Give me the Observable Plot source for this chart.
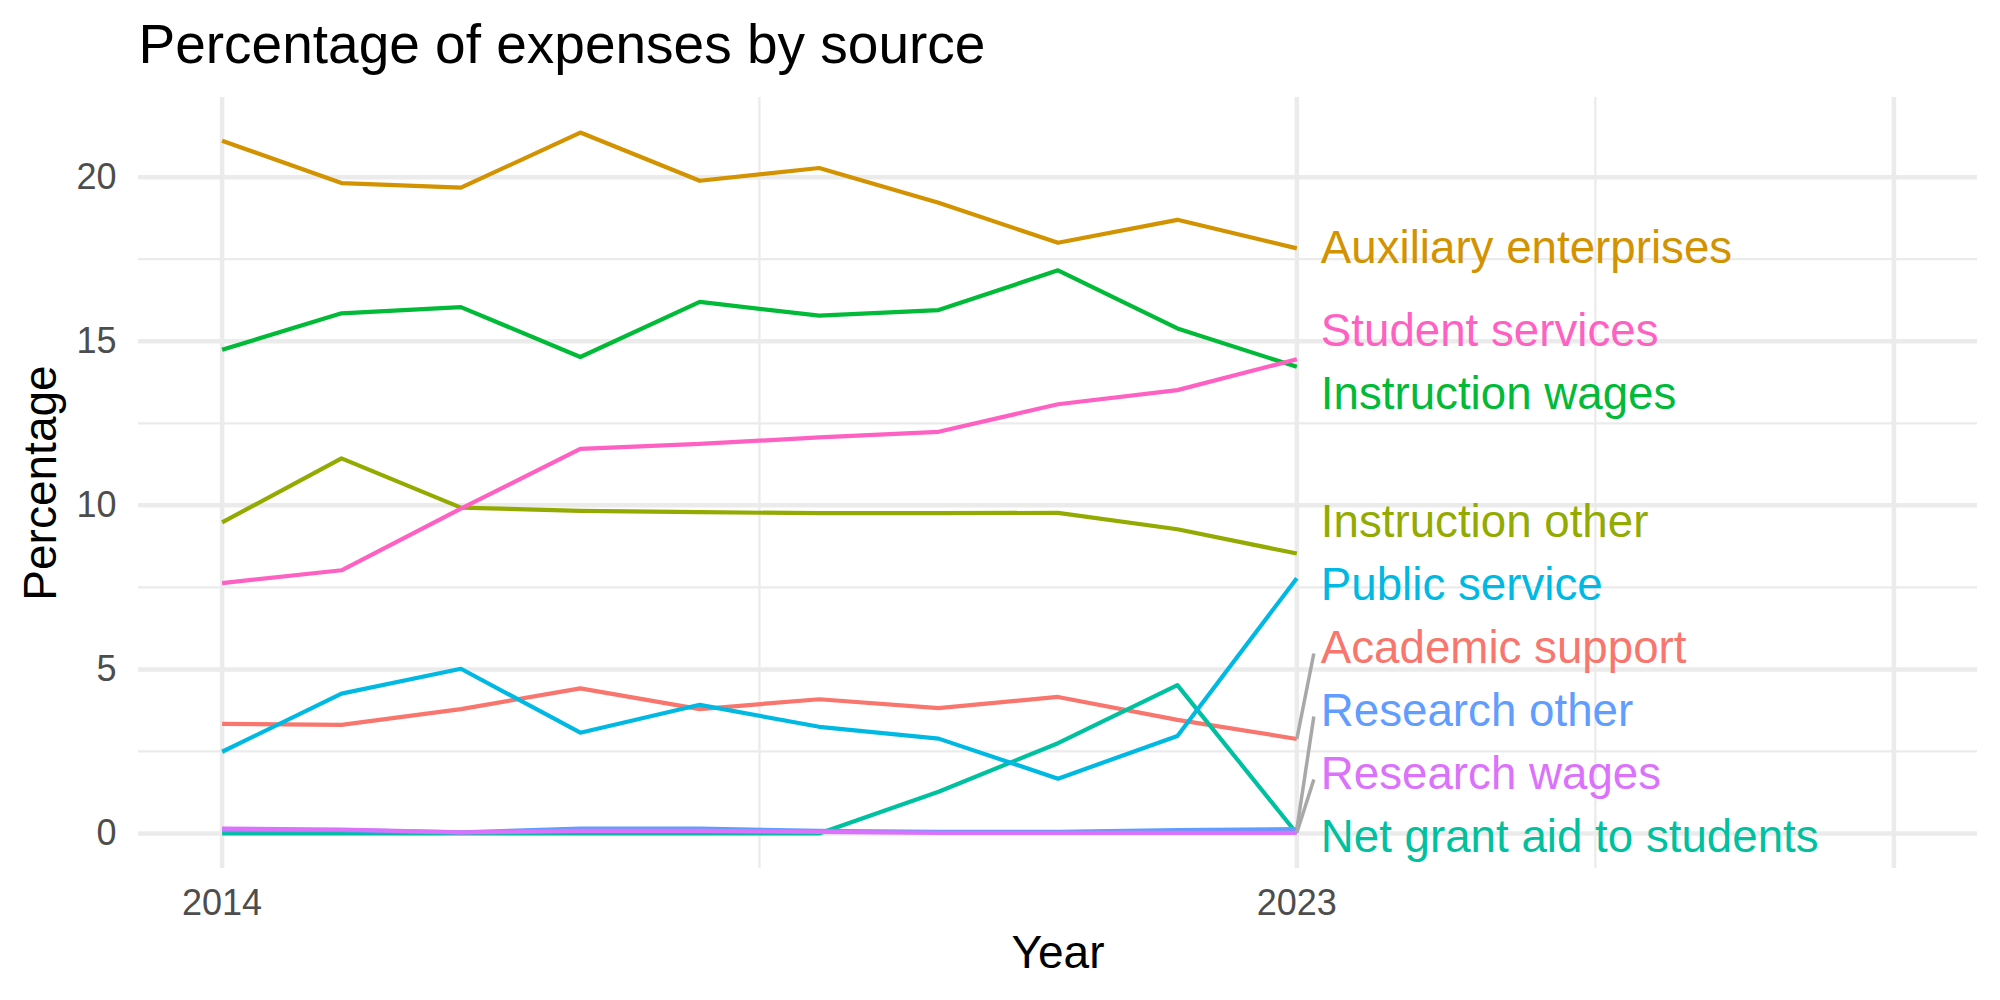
<!DOCTYPE html>
<html>
<head>
<meta charset="utf-8">
<script src="https://cdn.jsdelivr.net/npm/d3@7"></script>
<script src="https://cdn.jsdelivr.net/npm/@observablehq/plot@0.6"></script>
<style>
  html, body { margin: 0; padding: 0; background: #ffffff; }
  #chart svg { display: block; }
</style>
</head>
<body>
<div id="chart"></div>
<script>
// ---------------- data ----------------
const years = [2014, 2015, 2016, 2017, 2018, 2019, 2020, 2021, 2022, 2023];

const categories = [
  "Academic support",
  "Auxiliary enterprises",
  "Instruction other",
  "Instruction wages",
  "Net grant aid to students",
  "Public service",
  "Research other",
  "Research wages",
  "Student services"
];

const academicSupport      = [3.34, 3.31, 3.79, 4.42, 3.79, 4.09, 3.82, 4.16, 3.46, 2.88];
const auxiliaryEnterprises = [21.11, 19.82, 19.68, 21.36, 19.89, 20.28, 19.22, 18.00, 18.70, 17.83];
const instructionOther     = [9.48, 11.43, 9.93, 9.83, 9.79, 9.76, 9.76, 9.77, 9.27, 8.53];
const instructionWages     = [14.74, 15.85, 16.04, 14.52, 16.20, 15.78, 15.95, 17.16, 15.39, 14.22];
const netGrantAid          = [0.00, 0.00, 0.00, 0.00, 0.00, 0.00, 1.27, 2.75, 4.52, 0.00];
const publicService        = [2.49, 4.26, 5.02, 3.07, 3.92, 3.25, 2.89, 1.67, 2.97, 7.78];
const researchOther        = [0.10, 0.10, 0.03, 0.15, 0.15, 0.08, 0.05, 0.05, 0.10, 0.13];
const researchWages        = [0.15, 0.12, 0.03, 0.08, 0.08, 0.05, 0.02, 0.02, 0.02, 0.02];
const studentServices      = [7.63, 8.02, 9.90, 11.72, 11.87, 12.07, 12.24, 13.08, 13.51, 14.45];

const seriesValues = [
  academicSupport, auxiliaryEnterprises, instructionOther, instructionWages,
  netGrantAid, publicService, researchOther, researchWages, studentServices
];

const yTicks = [0, 5, 10, 15, 20];
const yMinorGrid = [2.5, 7.5, 12.5, 17.5];
const xTicks = [2014, 2023];
const xMajorGrid = [2014, 2023, 2028];
const xMinorGrid = [2018.5, 2025.5];
const xLimitMax = 2028;

const titleText = "Percentage of expenses by source";
const xTitle = "Year";
const yTitle = "Percentage";

// ---------------- styles ----------------
const palette = ["#F8766D", "#D39200", "#93AA00", "#00BA38", "#00C19F",
                 "#00B9E3", "#619CFF", "#DB72FB", "#FF61C3"];
const fontFamily = "'Liberation Sans', Arial, Helvetica, sans-serif";
const W = 2000, H = 1000;
const mL = 138, mR = 23, mT = 97, mB = 132;

// ---------------- table ----------------
const table = [];
categories.forEach((name, i) => {
  years.forEach((year, j) => table.push({name, year, value: seriesValues[i][j]}));
});

const allVals = table.map(d => d.value);
const yLo = d3.min(allVals), yHi = d3.max(allVals);
const yPad = 0.05 * (yHi - yLo);
const yDomain = [yLo - yPad, yHi + yPad];
const xLo = d3.min(years);
const xPad = 0.05 * (xLimitMax - xLo);
const xDomain = [xLo - xPad, xLimitMax + xPad];

const lastYear = d3.max(years);
const pxPerUnit = (H - mT - mB) / (yDomain[1] - yDomain[0]);
const pxPerYear = (W - mL - mR) / (xDomain[1] - xDomain[0]);

// ---------------- simple label repel ----------------
const ends = categories.map((name, i) => ({
  name, endY: seriesValues[i][seriesValues[i].length - 1]
})).sort((a, b) => b.endY - a.endY);
const gap = 63 / pxPerUnit;
const lo = yDomain[0] + 31 / pxPerUnit;
const hi = yDomain[1] - 31 / pxPerUnit;
ends.forEach(d => d.labelY = d.endY);
for (let it = 0; it < 3000; it++) {
  for (let k = 0; k < ends.length - 1; k++) {
    const a = ends[k], b = ends[k + 1];
    const diff = a.labelY - b.labelY;
    if (diff < gap) {
      const m = (gap - diff) / 2;
      a.labelY += m; b.labelY -= m;
    }
  }
  ends.forEach(d => { d.labelY = Math.max(lo, Math.min(hi, d.labelY)); });
}
const labelX = lastYear + 18 / pxPerYear + 0.05;
const segments = ends
  .filter(d => Math.abs(d.labelY - d.endY) * pxPerUnit > 45)
  .map(d => ({
    x1: lastYear, y1: d.endY,
    x2: lastYear + 17 / pxPerYear,
    y2: d.labelY - 5 / pxPerUnit * Math.sign(d.labelY - d.endY)
  }));

// ---------------- plot ----------------
const chart = Plot.plot({
  width: W, height: H,
  marginLeft: mL, marginRight: mR, marginTop: mT, marginBottom: mB,
  x: {domain: xDomain},
  y: {domain: yDomain},
  color: {domain: categories, range: palette},
  style: {fontFamily, background: "#ffffff", overflow: "visible"},
  marks: [
    Plot.ruleY(yMinorGrid, {stroke: "#EBEBEB", strokeWidth: 2.3}),
    Plot.ruleX(xMinorGrid, {stroke: "#EBEBEB", strokeWidth: 2.3}),
    Plot.ruleY(yTicks, {stroke: "#EBEBEB", strokeWidth: 4.5}),
    Plot.ruleX(xMajorGrid, {stroke: "#EBEBEB", strokeWidth: 4.5}),
    Plot.line(table, {
      x: "year", y: "value", z: "name", stroke: "name",
      strokeWidth: 4.2, strokeLinecap: "butt", strokeLinejoin: "round"
    }),
    Plot.link(segments, {
      x1: "x1", y1: "y1", x2: "x2", y2: "y2",
      stroke: "#A8A8A8", strokeWidth: 3.5, strokeLinecap: "butt"
    }),
    Plot.text(ends, {
      x: () => labelX, y: "labelY", text: "name", fill: "name",
      textAnchor: "start", lineAnchor: "middle", fontSize: 45.7
    }),
    Plot.axisX({
      ticks: xTicks, tickFormat: "d", tickSize: 0, tickPadding: 21,
      fontSize: 36, color: "#4D4D4D", label: null
    }),
    Plot.axisY({
      ticks: yTicks, tickSize: 0, tickPadding: 22,
      fontSize: 36, color: "#4D4D4D", label: null
    }),
    Plot.text([xTitle], {
      frameAnchor: "bottom", dy: 99, textAnchor: "middle", lineAnchor: "bottom",
      fontSize: 46, fill: "#000000"
    }),
    Plot.text([yTitle], {
      frameAnchor: "left", dx: 55 - mL, rotate: -90, textAnchor: "middle",
      lineAnchor: "bottom", fontSize: 46, fill: "#000000"
    }),
    Plot.text([titleText], {
      frameAnchor: "top-left", dy: 62.7 - mT, textAnchor: "start",
      lineAnchor: "bottom", fontSize: 55, fill: "#000000"
    })
  ]
});
document.getElementById("chart").appendChild(chart);
</script>
</body>
</html>
